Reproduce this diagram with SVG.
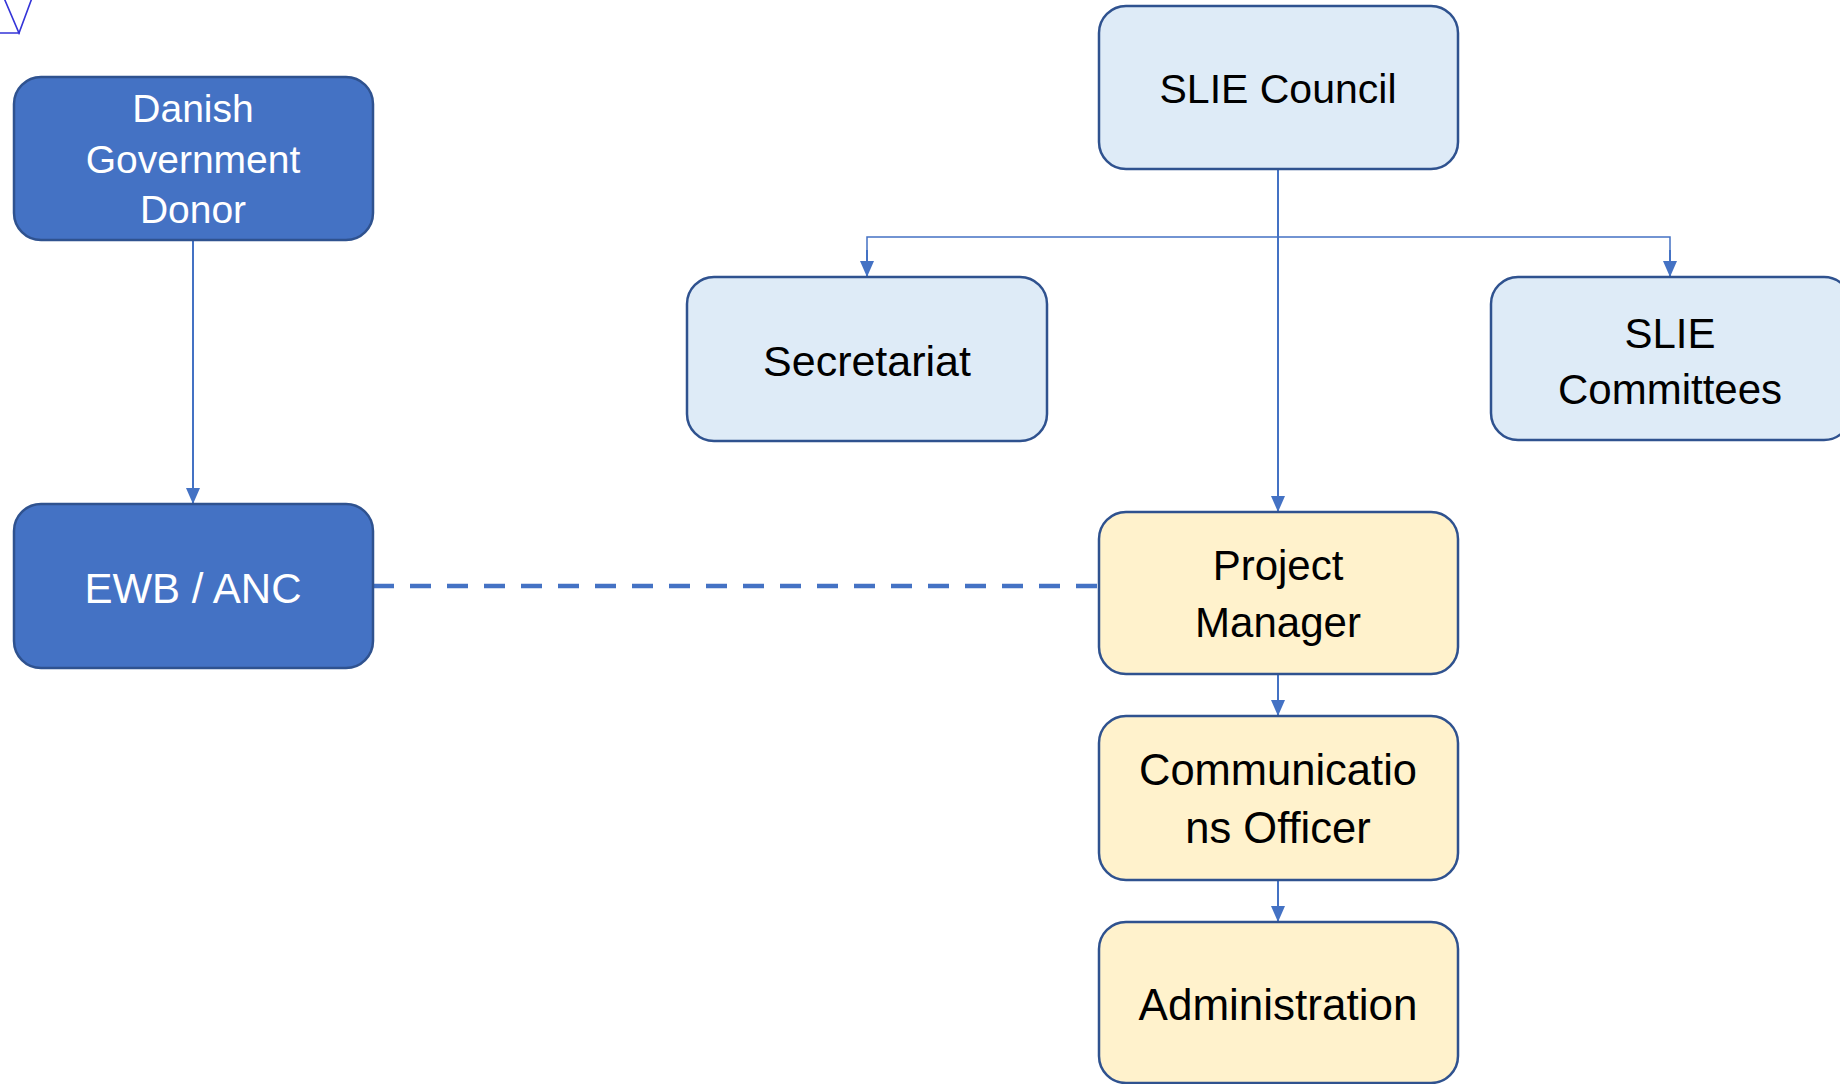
<svg xmlns="http://www.w3.org/2000/svg" width="1840" height="1084" viewBox="0 0 1840 1084">
  <style>
    .box { stroke: #2F528F; stroke-width: 2.5; }
    .dark { fill: #4472C4; }
    .blue { fill: #DEEBF7; }
    .yellow { fill: #FFF2CC; }
    text { font-family: "Liberation Sans", Arial, sans-serif; text-anchor: middle; font-size: 42px; fill: #000; }
    .light { fill: #FFFFFF; }
    .small { font-size: 39px; }
    .link { fill: none; stroke: #4472C4; stroke-width: 2; }
    .bus { fill: none; stroke: #4472C4; stroke-width: 1.5; }
    .dash { fill: none; stroke: #4472C4; stroke-width: 4.5; stroke-dasharray: 21 16; }
  </style>
  <defs>
    <marker id="arrow" markerUnits="userSpaceOnUse" markerWidth="16" markerHeight="16" viewBox="0 0 16 16" refX="16" refY="8" orient="auto">
      <path d="M0,1 L16,8 L0,15 Z" fill="#4472C4"/>
    </marker>
  </defs>
  <rect width="1840" height="1084" fill="#FFFFFF"/>

  <!-- corner glyph, mostly off the page -->
  <path d="M4,-2 L19,33 L32,-2 M0,33 L20,33" fill="none" stroke="#3434D8" stroke-width="1.6"/>

  <g id="connectors">
    <line class="link" x1="193" y1="241" x2="193" y2="504" marker-end="url(#arrow)"/>
    <line class="link" x1="1278" y1="170" x2="1278" y2="512" marker-end="url(#arrow)"/>
    <polyline class="bus" points="867,262 867,237 1670,237 1670,262"/>
    <line class="link" x1="867" y1="250" x2="867" y2="277" marker-end="url(#arrow)"/>
    <line class="link" x1="1670" y1="250" x2="1670" y2="277" marker-end="url(#arrow)"/>
    <line class="link" x1="1278" y1="675" x2="1278" y2="716" marker-end="url(#arrow)"/>
    <line class="link" x1="1278" y1="881" x2="1278" y2="922" marker-end="url(#arrow)"/>
    <line class="dash" x1="373" y1="586" x2="1098" y2="586"/>
  </g>

  <g id="danish-government-donor">
    <rect class="box dark" x="14" y="77" width="359" height="163" rx="27"/>
    <text class="light small" x="193" y="122">Danish</text>
    <text class="light small" x="193" y="173">Government</text>
    <text class="light small" x="193" y="223">Donor</text>
  </g>

  <g id="ewb-anc">
    <rect class="box dark" x="14" y="504" width="359" height="164" rx="27"/>
    <text class="light" x="193" y="603">EWB / ANC</text>
  </g>

  <g id="slie-council">
    <rect class="box blue" x="1099" y="6" width="359" height="163" rx="27"/>
    <text x="1278" y="103" style="font-size:41px">SLIE Council</text>
  </g>

  <g id="secretariat">
    <rect class="box blue" x="687" y="277" width="360" height="164" rx="27"/>
    <text x="867" y="376" style="font-size:43px">Secretariat</text>
  </g>

  <g id="slie-committees">
    <rect class="box blue" x="1491" y="277" width="360" height="163" rx="27"/>
    <text x="1670" y="348">SLIE</text>
    <text x="1670" y="404">Committees</text>
  </g>

  <g id="project-manager">
    <rect class="box yellow" x="1099" y="512" width="359" height="162" rx="27"/>
    <text x="1278" y="580">Project</text>
    <text x="1278" y="637">Manager</text>
  </g>

  <g id="communications-officer">
    <rect class="box yellow" x="1099" y="716" width="359" height="164" rx="27"/>
    <text x="1278" y="785" style="font-size:43.5px">Communicatio</text>
    <text x="1278" y="843" style="font-size:43.5px">ns Officer</text>
  </g>

  <g id="administration">
    <rect class="box yellow" x="1099" y="922" width="359" height="161" rx="27"/>
    <text x="1278" y="1020" style="font-size:44px">Administration</text>
  </g>
</svg>
